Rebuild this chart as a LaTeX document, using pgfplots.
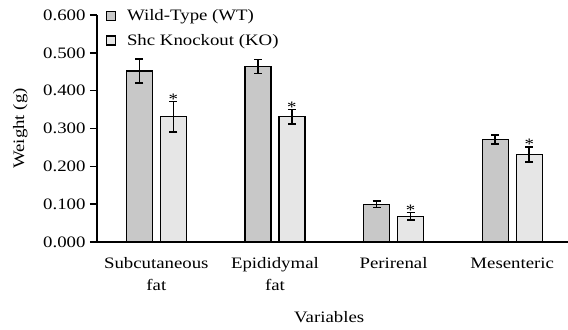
\documentclass[border=0pt]{standalone}
\usepackage{pgfplots}
\pgfplotsset{compat=1.18}
\usepackage{fontspec}
\setmainfont{Liberation Serif}[FakeStretch=1.18]
\definecolor{wt}{HTML}{C8C8C8}
\definecolor{ko}{HTML}{E6E6E6}
\pgfplotsset{myerr/.style={
  error bars/y dir=both, error bars/y explicit,
  error bars/error bar style={line width=1.5pt, black},
  error bars/error mark options={rotate=90, mark size=4bp, line width=1.5pt, black}}}
\newcommand{\fs}{\fontsize{16}{22}\selectfont}
\begin{document}
\begin{tikzpicture}[x=1bp,y=1bp, font=\fs]
\begin{axis}[
  name=ax,
  scale only axis,
  width=471bp, height=227bp,
  xmin=-0.5, xmax=3.47,
  ymin=0, ymax=0.6,
  axis x line*=bottom, axis y line*=left,
  axis line style={line width=1.5pt, -},
  ytick={0,0.1,...,0.6},
  yticklabel style={font=\fs, xshift=-1bp, /pgf/number format/.cd, fixed, fixed zerofill, precision=3, assume math mode=true},
  ylabel={Weight (g)},
  ylabel style={font=\fs, at={(axis description cs:-0.163,0.5)}, anchor=center, rotate=0},
  xlabel={Variables},
  xlabel style={font=\fs, at={(axis description cs:0.493,-0.33)}, anchor=center},
  xtick={0,1,2,3},
  xticklabels={{Subcutaneous\\fat},{Epididymal\\fat},{Perirenal},{Mesenteric}},
  xticklabel style={font=\fs, align=center, anchor=north, yshift=-5bp},
  major x tick style={draw=none},
  extra x ticks={0.5,1.5,2.5},
  extra x tick labels={},
  extra x tick style={major tick length=7bp, tick style={draw=black, line width=1.5pt}},
  tick align=outside,
  major tick length=7bp,
  y tick style={line width=1.5pt, black},
  ybar=8bp, bar width=26bp,
  legend style={at={(axis description cs:0.016,1.038)}, anchor=north west, draw=none, fill=none,
    font=\fs, row sep=8bp, column sep=9bp, legend cell align=left, inner sep=1bp},
  legend image code/.code={\draw[#1, line width=1.3pt] (0bp,-4.5bp) rectangle (9bp,4.5bp);},
]
\addplot[fill=wt, draw=black, line width=1.3pt, myerr] coordinates {
  (0,0.452) +- (0,0.032)
  (1,0.464) +- (0,0.019)
  (2,0.100) +- (0,0.009)
  (3,0.271) +- (0,0.012)
};
\addplot[fill=ko, draw=black, line width=1.3pt, myerr] coordinates {
  (0,0.331) +- (0,0.040)
  (1,0.331) +- (0,0.019)
  (2,0.068) +- (0,0.010)
  (3,0.231) +- (0,0.020)
};
\legend{Wild-Type (WT), Shc Knockout (KO)}
\end{axis}
\begin{axis}[
  scale only axis, at={(ax.south west)}, anchor=south west,
  width=471bp, height=227bp,
  xmin=-0.5, xmax=3.47, ymin=0, ymax=0.6,
  axis lines=none, ticks=none,
]
\addplot[draw=none, mark=none, only marks, nodes near coords={*},
  every node near coord/.append style={anchor=south, inner sep=1bp, font=\fontsize{16}{16}\selectfont, yshift=-4bp}]
  coordinates {(0.143,0.371) (1.143,0.350) (2.143,0.078) (3.143,0.251)};
\end{axis}
\pgfresetboundingbox
\path ([shift={(-97bp,-88bp)}]ax.south west) rectangle ([shift={(0bp,15bp)}]ax.north east);
\end{tikzpicture}
\end{document}
